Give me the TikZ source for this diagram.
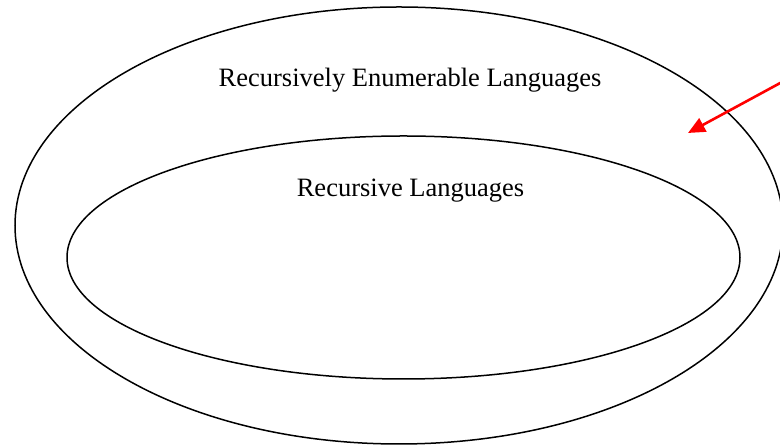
\documentclass[tikz,border=0pt]{standalone}
\usepackage{fontspec}
\setmainfont{Liberation Serif}
\usetikzlibrary{arrows.meta,shapes.geometric}
\begin{document}
\begin{tikzpicture}[x=1pt,y=1pt,
  setline/.style={draw=black,line width=1.5pt},
  label/.style={font=\fontsize{26.5}{30}\selectfont,anchor=base,inner sep=0pt},
  pointer/.style={draw=red,line width=2.6pt,-{Triangle[length=17pt,width=15pt]}}]
  \useasboundingbox (0,0) rectangle (780,446);
  % outer set: recursively enumerable languages
  \node[setline,ellipse,minimum width=768pt,minimum height=437pt,inner sep=0pt] (re) at (399,220.5) {};
  % inner set: recursive languages
  \node[setline,ellipse,minimum width=673pt,minimum height=243pt,inner sep=0pt] (rec) at (403.5,188.5) {};
  \node[label] (relabel) at (410,359) {Recursively Enumerable Languages};
  \node[label] (reclabel) at (410.5,249) {Recursive Languages};
  % pointer into the region between the two sets
  \coordinate (src) at (783,364.5);
  \coordinate (tip) at (688,313);
  \draw[pointer] (src) -- (tip);
\end{tikzpicture}
\end{document}
